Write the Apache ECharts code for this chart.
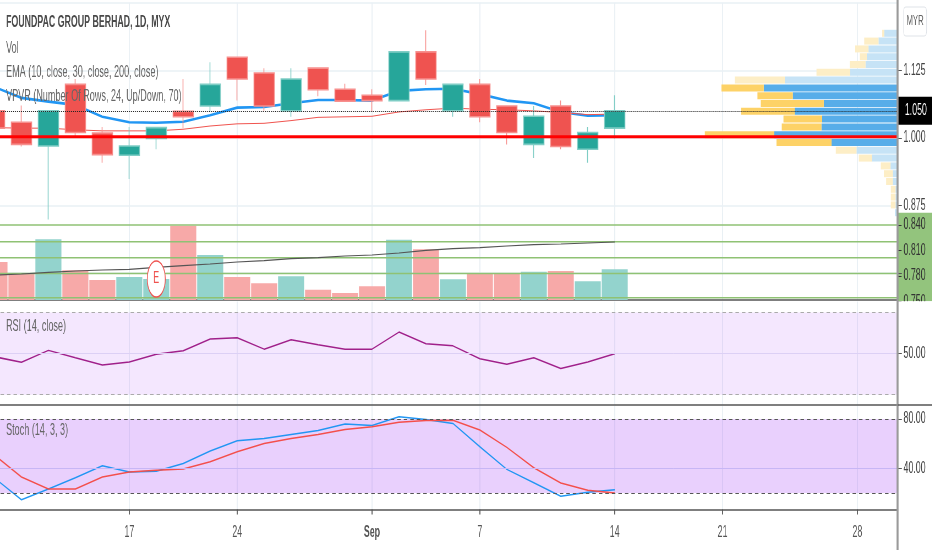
<!DOCTYPE html>
<html><head><meta charset="utf-8">
<style>html,body{margin:0;padding:0;background:#fff;width:932px;height:550px;overflow:hidden}#c{position:absolute;left:0;top:0;transform-origin:0 0}</style>
<script src="https://cdn.jsdelivr.net/npm/echarts@6/dist/echarts.min.js"></script>
</head><body><div id="c"></div>
<script>
const dates=['08-10','08-11','08-12','08-13','08-14','08-17','08-18','08-19','08-20','08-24','08-25','08-26','08-27','08-28','09-01','09-02','09-03','09-04','09-07','09-08','09-09','09-10','09-11','09-14','09-15','09-17','09-18','09-21','09-22','09-23','09-24','09-25','09-28','09-29'];
const tickDates={'08-17':'17','08-24':'24','09-01':'Sep','09-07':'7','09-14':'14','09-21':'21','09-28':'28'};
const opens =[1.050,1.029,.985,1.099,1.009,.968,.999,1.049,1.059,1.149,1.120,1.050,1.129,1.090,1.079,1.069,1.159,1.050,1.099,1.059,.988,1.059,.979,1.018];
const closes=[1.018,.988,1.050,1.010,.969,.985,1.019,1.039,1.099,1.109,1.059,1.109,1.089,1.068,1.069,1.159,1.109,1.099,1.039,1.010,1.040,.984,1.010,1.050];
const lows  =[1.018,.984,.849,1.000,.954,.924,.979,1.018,1.048,1.069,1.050,1.039,1.077,1.068,1.048,1.069,1.098,1.039,1.029,.988,.963,.979,.954,.999];
const highs =[1.050,1.060,1.050,1.109,1.020,1.020,1.019,1.109,1.140,1.149,1.129,1.129,1.129,1.100,1.090,1.159,1.199,1.099,1.109,1.059,1.059,1.069,1.020,1.079];
const emaFast=[1.094,1.074,1.067,1.061,1.039,1.029,1.028,1.030,1.042,1.056,1.057,1.064,1.070,1.070,1.069,1.087,1.090,1.091,1.081,1.069,1.064,1.048,1.041,1.042];
const emaSlow=[1.019,1.018,1.018,1.015,1.013,1.013,1.013,1.016,1.022,1.026,1.027,1.032,1.038,1.039,1.040,1.048,1.052,1.055,1.053,1.052,1.050,1.047,1.043,1.044];
const volumes=[380,260,607,297,200,230,210,743,450,230,167,237,103,70,137,603,507,207,263,263,283,290,187,307];
const volMA=[250,260,277,290,300,307,327,343,360,380,393,413,423,440,450,470,497,513,523,540,553,560,570,580];
const greenLevels=[750,583,423,265,23];
const rsi=[48.5,45.8,51.6,48.0,44.5,45.9,49.7,51.4,57.1,57.7,52.2,56.8,54.3,52.2,52.2,60.5,54.8,53.8,47.5,44.8,48.0,42.8,45.9,50.0];
const stochK=[32.2,14.6,23.3,32.4,42.1,37,37.6,44,54,62.3,64.2,67.5,70.7,76,74.7,81.7,79.6,76.4,57.5,39.2,28.4,17.4,20.6,22.7];
const stochD=[50.7,33,23.3,23.3,33,37,38.4,39.4,45.3,53.4,60.2,64.2,67.5,71.5,73.6,77.4,78.8,79,71,57,40.5,28.1,22.2,20];
const vpUp=[13.3,19,29,30.7,32,47.3,112.7,133.7,104.7,73.7,102.7,75.3,76,123.3,66,41,25.7,7,4.7,4.7,2,2,2,2.7];
const vpDown=[2,14.3,13.3,7,15.7,33.7,50,42.3,35.3,63,53.7,38.7,39.7,69.3,55,20.7,13,9.7,9,6.7,4.7,4.7,4.7,0];
const vpValueArea=[0,0,0,0,0,0,0,1,1,1,1,1,1,1,1,0,0,0,0,0,0,0,0,0];
const lastPrice=1.05, supportLevel=1.002;
const priceTicks=['1.250','1.125','1.000','0.875'];
const volScaleTicks=[0.75,0.78,0.81,0.84];

// the reference is a horizontally squeezed snapshot: the chart is laid out wide and squeezed the same way
const k=0.55, px=v=>v/k;
const el=document.getElementById('c');
el.style.width=px(932)+'px'; el.style.height='550px'; el.style.transform='scaleX('+k+')';

const FONT='"Liberation Sans",Arial,sans-serif';
const TEAL='#26a69a',RED='#ef5350';
const gridLine='#e9f0f5',darkLine='#555';
const L=px(-19),W=px(916.3);
const isTick=(i,v)=>v in tickDates;
const NB={outerBoundsMode:'none'};

function catAxis(gridIndex,extra){
  return Object.assign({type:'category',gridIndex,data:dates,boundaryGap:true,
    axisLine:{show:false},axisTick:{show:false},axisLabel:{show:false},
    splitLine:{show:true,alignWithLabel:true,interval:isTick,lineStyle:{color:gridLine,width:px(1)}}},extra||{});
}
const lineOf=w=>({show:true,onZero:false,lineStyle:{color:darkLine,width:w}});
const rowLabels=vpUp.map((_,i)=>'row'+(i+1));
const labelStyle={fontFamily:FONT,fontSize:16,color:'#444'};
const titleText=(text,top,weight)=>({text,left:px(6),top,padding:0,textStyle:{fontFamily:FONT,fontSize:weight?16:16.5,fontWeight:weight||'normal',color:weight?'#4a4a4a':'#666',lineHeight:16}});
const dash=[px(3.5),px(3)];
const spanX={type:'value',min:0,max:1,show:false};

const option={
  animation:false,backgroundColor:'#fff',
  title:[titleText('FOUNDPAC GROUP BERHAD, 1D, MYX',15,'bold'),titleText('Vol',40),titleText('EMA (10, close, 30, close, 200, close)',64),titleText('VPVR (Number Of Rows, 24, Up/Down, 70)',88),titleText('RSI (14, close)',318),titleText('Stoch (14, 3, 3)',422)],
  grid:[
    Object.assign({left:L,width:W,top:2.7,height:270.4},NB),
    Object.assign({left:L,width:W,top:213,height:87},NB),
    Object.assign({left:L,width:W,top:301.5,height:103.5},NB),
    Object.assign({left:L,width:W,top:405.5,height:104},NB),
    Object.assign({left:px(680),width:px(217),top:29.4,height:187.2},NB),
    Object.assign({show:true,left:px(897),width:px(35),top:212.7,height:88.5,backgroundColor:'#93c47d',borderWidth:0},NB),
    Object.assign({left:L,width:W,top:213,height:87},NB),
    Object.assign({left:L,width:W,top:2.7,height:270.4},NB)
  ],
  xAxis:[
    catAxis(0),
    catAxis(1,{axisLine:lineOf(1.5)}),
    catAxis(2,{axisLine:lineOf(1.5)}),
    catAxis(3,{axisLine:lineOf(1.5),
      axisTick:{show:true,alignWithLabel:true,interval:isTick,length:5,lineStyle:{color:darkLine,width:px(1)}},
      axisLabel:{show:true,interval:isTick,margin:15,fontFamily:FONT,fontSize:16,color:'#555',
        formatter:v=>tickDates[v]==='Sep'?'{b|Sep}':(tickDates[v]||''),rich:{b:{fontFamily:FONT,fontSize:16,fontWeight:'bold',color:'#555'}}}}),
    {type:'value',gridIndex:4,inverse:true,min:0,max:217,show:false},
    {type:'category',gridIndex:5,data:['a'],show:false},
    Object.assign({gridIndex:6},spanX),
    Object.assign({gridIndex:7},spanX)
  ],
  yAxis:[
    {type:'value',gridIndex:0,position:'right',min:0.75,max:1.25,interval:0.125,
      axisLine:{show:false},axisTick:{show:true,length:px(4),lineStyle:{color:darkLine}},
      axisLabel:Object.assign({},labelStyle,{margin:px(5.7),showMinLabel:false,showMaxLabel:true,hideOverlap:false,customValues:priceTicks.map(Number),formatter:v=>v.toFixed(3)}),
      splitLine:{show:true,lineStyle:{color:gridLine,width:1.5}}},
    {type:'value',gridIndex:1,position:'right',min:0,max:870,show:false},
    {type:'value',gridIndex:2,position:'right',min:25,max:75.4,
      axisLine:{show:false},axisTick:{show:true,length:px(4),customValues:[50],lineStyle:{color:darkLine}},
      axisLabel:Object.assign({},labelStyle,{margin:px(5.7),customValues:[50],formatter:v=>v.toFixed(2)}),splitLine:{show:false}},
    {type:'value',gridIndex:3,position:'right',min:6.7,max:90.9,
      axisLine:{show:false},axisTick:{show:true,length:px(4),customValues:[40,80],lineStyle:{color:darkLine}},
      axisLabel:Object.assign({},labelStyle,{margin:px(5.7),customValues:[40,80],formatter:v=>v.toFixed(2)}),splitLine:{show:false}},
    {type:'category',gridIndex:4,inverse:true,data:rowLabels,show:false},
    {type:'value',gridIndex:5,position:'left',min:0.75,max:0.8545,
      axisLine:{show:false},axisTick:{show:true,inside:true,length:px(4),customValues:volScaleTicks,lineStyle:{color:'#333'}},
      axisLabel:{inside:true,margin:px(6),customValues:volScaleTicks,formatter:v=>v.toFixed(3),fontFamily:FONT,fontSize:16,color:'#333'},splitLine:{show:false}},
    {type:'value',gridIndex:6,min:0,max:870,show:false},
    {type:'value',gridIndex:7,min:0.75,max:1.25,show:false}
  ],
  series:[
    {type:'line',name:'EMA 10',xAxisIndex:0,yAxisIndex:0,data:emaFast,symbol:'none',z:1,lineStyle:{color:'#2196f3',width:2.6}},
    {type:'line',name:'EMA 30',xAxisIndex:0,yAxisIndex:0,data:emaSlow,symbol:'none',z:1,lineStyle:{color:'#f0544f',width:1}},
    {type:'bar',name:'VPVR up',xAxisIndex:4,yAxisIndex:4,stack:'vp',barWidth:7,z:2,
      data:vpUp.map((v,i)=>({value:v,itemStyle:{color:vpValueArea[i]?'#57ade9':'#c6e3f6'}}))},
    {type:'bar',name:'VPVR down',xAxisIndex:4,yAxisIndex:4,stack:'vp',barWidth:7,z:2,
      data:vpDown.map((v,i)=>({value:v,itemStyle:{color:vpValueArea[i]?'#fdd267':'#fdeec6'}}))},
    {type:'candlestick',name:'Price',xAxisIndex:0,yAxisIndex:0,barWidth:px(21),z:3,
      data:opens.map((o,i)=>[o,closes[i],lows[i],highs[i]]),
      itemStyle:{color:TEAL,color0:RED,borderColor:'#7fcdc5',borderColor0:'#f78f8d',borderWidth:1.6},
      markLine:{silent:true,symbol:'none',animation:false,z:8,data:[
        {yAxis:lastPrice,lineStyle:{color:'#222',width:1,type:[px(1),px(1)]},
          label:{show:true,position:'end',distance:0,formatter:()=>lastPrice.toFixed(3),backgroundColor:'#000',color:'#fff',
            fontFamily:FONT,fontSize:16,padding:[6,px(6),6,px(7)]}}
      ]}},
    {type:'line',name:'Support',xAxisIndex:7,yAxisIndex:7,data:[[0,supportLevel],[1,supportLevel]],symbol:'none',z:8,lineStyle:{color:'#ff0000',width:3}},
    {type:'bar',name:'Vol',xAxisIndex:1,yAxisIndex:1,barWidth:px(26),z:1,
      data:volumes.map((v,i)=>({value:v,itemStyle:{color:closes[i]>=opens[i]?'#93d3cd':'#f7a9a8'}})),
      markPoint:{silent:true,animation:false,z:9,symbol:'circle',symbolSize:[px(18),36],itemStyle:{color:'#fff',borderColor:RED,borderWidth:1.5},
        label:{show:true,formatter:'E',color:RED,fontFamily:FONT,fontSize:16},
        data:[{name:'E',coord:[dates[6],210]}]}},
    {type:'line',name:'Vol MA',xAxisIndex:1,yAxisIndex:1,data:volMA,symbol:'none',z:7,lineStyle:{color:'#555',width:1.2}},
    ...greenLevels.map((v,i)=>({type:'line',name:'Level '+(i+1),xAxisIndex:6,yAxisIndex:6,data:[[0,v],[1,v]],symbol:'none',z:6,lineStyle:{color:'#8fc274',width:1.5}})),
    {type:'line',name:'RSI',xAxisIndex:2,yAxisIndex:2,data:rsi,symbol:'none',z:3,lineStyle:{color:'#a0208a',width:1.5},
      markArea:{silent:true,itemStyle:{color:'rgba(156,39,245,0.11)'},data:[[{yAxis:30},{yAxis:70}]]},
      markLine:{silent:true,symbol:'none',animation:false,label:{show:false},data:[
        {yAxis:70,lineStyle:{color:'#aaa',type:dash,width:1}},
        {yAxis:30,lineStyle:{color:'#aaa',type:dash,width:1}},
        {yAxis:50,lineStyle:{color:'#dcd0f5',type:'solid',width:1}}]}},
    {type:'line',name:'%K',xAxisIndex:3,yAxisIndex:3,data:stochK,symbol:'none',z:3,lineStyle:{color:'#2196f3',width:1.5},
      markArea:{silent:true,itemStyle:{color:'rgba(156,39,245,0.22)'},data:[[{yAxis:20},{yAxis:80}]]},
      markLine:{silent:true,symbol:'none',animation:false,label:{show:false},data:[
        {yAxis:80,lineStyle:{color:'#555',type:dash,width:1}},
        {yAxis:20,lineStyle:{color:'#555',type:dash,width:1}},
        {yAxis:40,lineStyle:{color:'#c7b6f5',type:'solid',width:1}}]}},
    {type:'line',name:'%D',xAxisIndex:3,yAxisIndex:3,data:stochD,symbol:'none',z:4,lineStyle:{color:'#f44f4b',width:1.5}}
  ],
  graphic:[
    {type:'rect',z:50,shape:{x:px(897),y:301.2,width:px(35),height:10},style:{fill:'#fff'}},
    {type:'line',z:60,shape:{x1:px(897),y1:0,x2:px(897),y2:550},style:{stroke:'#9a9a9a',lineWidth:px(2)}},
    {type:'line',z:60,shape:{x1:px(897),y1:405,x2:px(932),y2:405},style:{stroke:darkLine,lineWidth:1.5}},
    {type:'rect',z:61,shape:{x:px(903),y:7,width:px(23),height:29,r:4},style:{fill:'#fff',stroke:'#dfe3e8',lineWidth:1}},
    {type:'text',z:62,style:{x:px(914.5),y:21.5,text:'MYR',align:'center',verticalAlign:'middle',fill:'#666',font:'14px '+FONT}}
  ]
};
echarts.init(el,null,{renderer:'canvas',width:px(932),height:550}).setOption(option);
</script></body></html>
